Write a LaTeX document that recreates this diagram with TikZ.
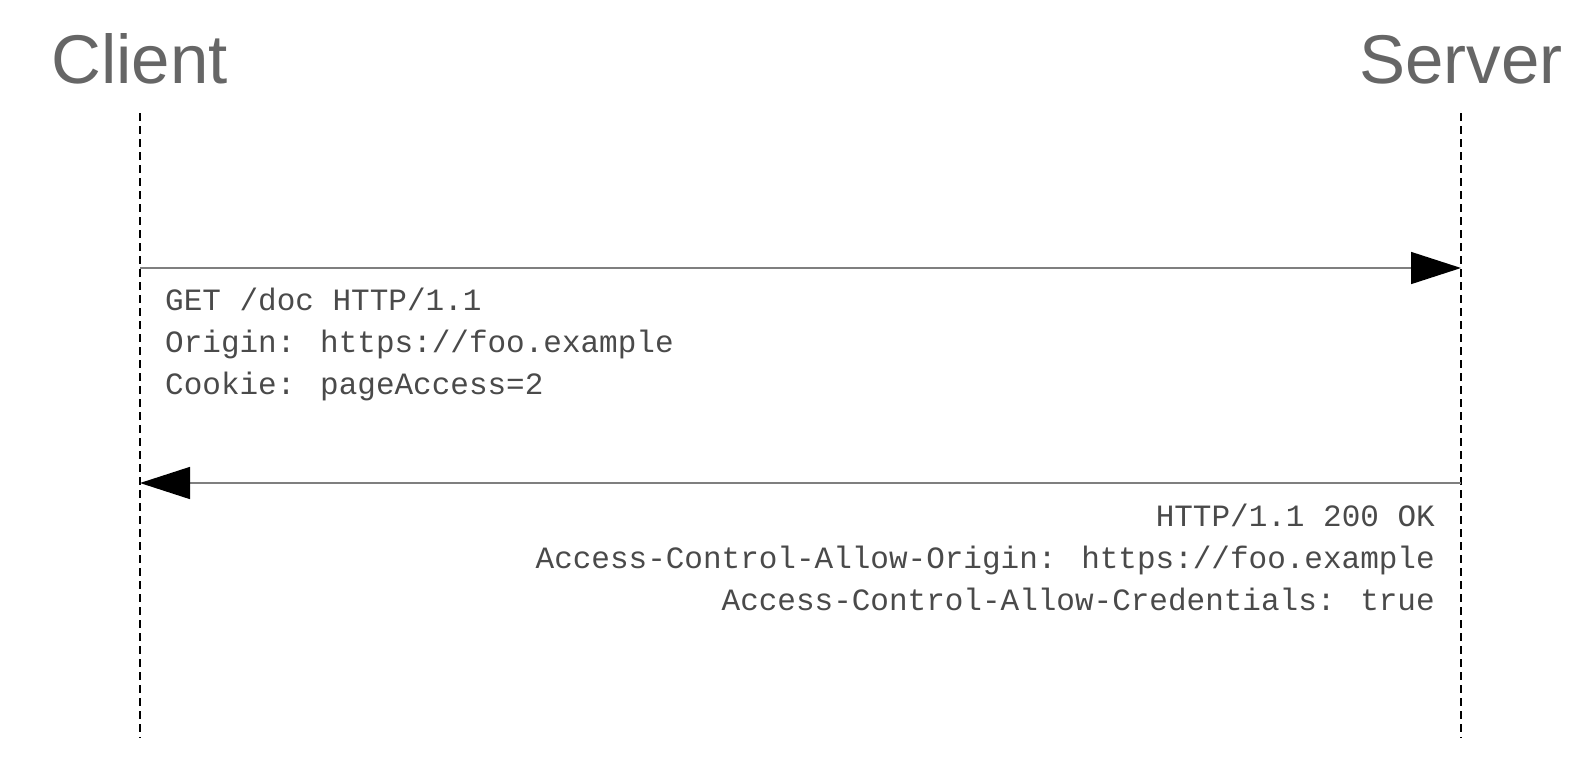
\documentclass[tikz,border=0pt]{standalone}
\usepackage{fontspec}
\setmainfont{Liberation Sans}
\newfontfamily\msgfont{Liberation Mono}
\usetikzlibrary{arrows.meta}
\definecolor{titlegray}{HTML}{666666}
\definecolor{textgray}{HTML}{4A4A4A}
\definecolor{linegray}{HTML}{7F7F7F}
\begin{document}
\begin{tikzpicture}[x=1pt,y=-1pt,
  title/.style={font=\fontsize{69}{80}\selectfont, text=titlegray, inner sep=0pt},
  msg/.style={font=\msgfont\fontsize{31}{36}\selectfont, text=textgray, inner sep=0pt},
  lifeline/.style={draw=black, line width=1.3pt, dash pattern=on 8pt off 5pt},
  msgarrow/.style={draw=linegray, line width=1.5pt, -{Triangle[length=50pt,width=32pt,color=black]}}]
\useasboundingbox (0,0) rectangle (1584,780);
\fill[white] (0,0) rectangle (1584,780);
% titles
\node[title, anchor=base west] (client) at (51,83) {Client};
\node[title, anchor=base east] (server) at (1563,83) {Server};
% lifelines
\coordinate (ctop) at (140,113);
\coordinate (cbot) at (140,738);
\coordinate (stop) at (1461,113);
\coordinate (sbot) at (1461,738);
\draw[lifeline] (ctop) -- (cbot);
\draw[lifeline] (stop) -- (sbot);
% messages
\coordinate (req0) at (140,268);
\coordinate (req1) at (1461,268);
\draw[msgarrow] (req0) -- (req1);
\coordinate (res0) at (1461,483);
\coordinate (res1) at (140,483);
\draw[msgarrow] (res0) -- (res1);
% request text
\node[msg, anchor=base west] (q1) at (165,310) {GET /doc HTTP/1.1};
\node[msg, anchor=base west] (q2) at (165,352) {Origin: https://foo.example};
\node[msg, anchor=base west] (q3) at (165,394) {Cookie: pageAccess=2};
% response text
\node[msg, anchor=base east] (r1) at (1435,526) {HTTP/1.1 200 OK};
\node[msg, anchor=base east] (r2) at (1435,568) {Access-Control-Allow-Origin: https://foo.example};
\node[msg, anchor=base east] (r3) at (1435,610) {Access-Control-Allow-Credentials: true};
\end{tikzpicture}
\end{document}
